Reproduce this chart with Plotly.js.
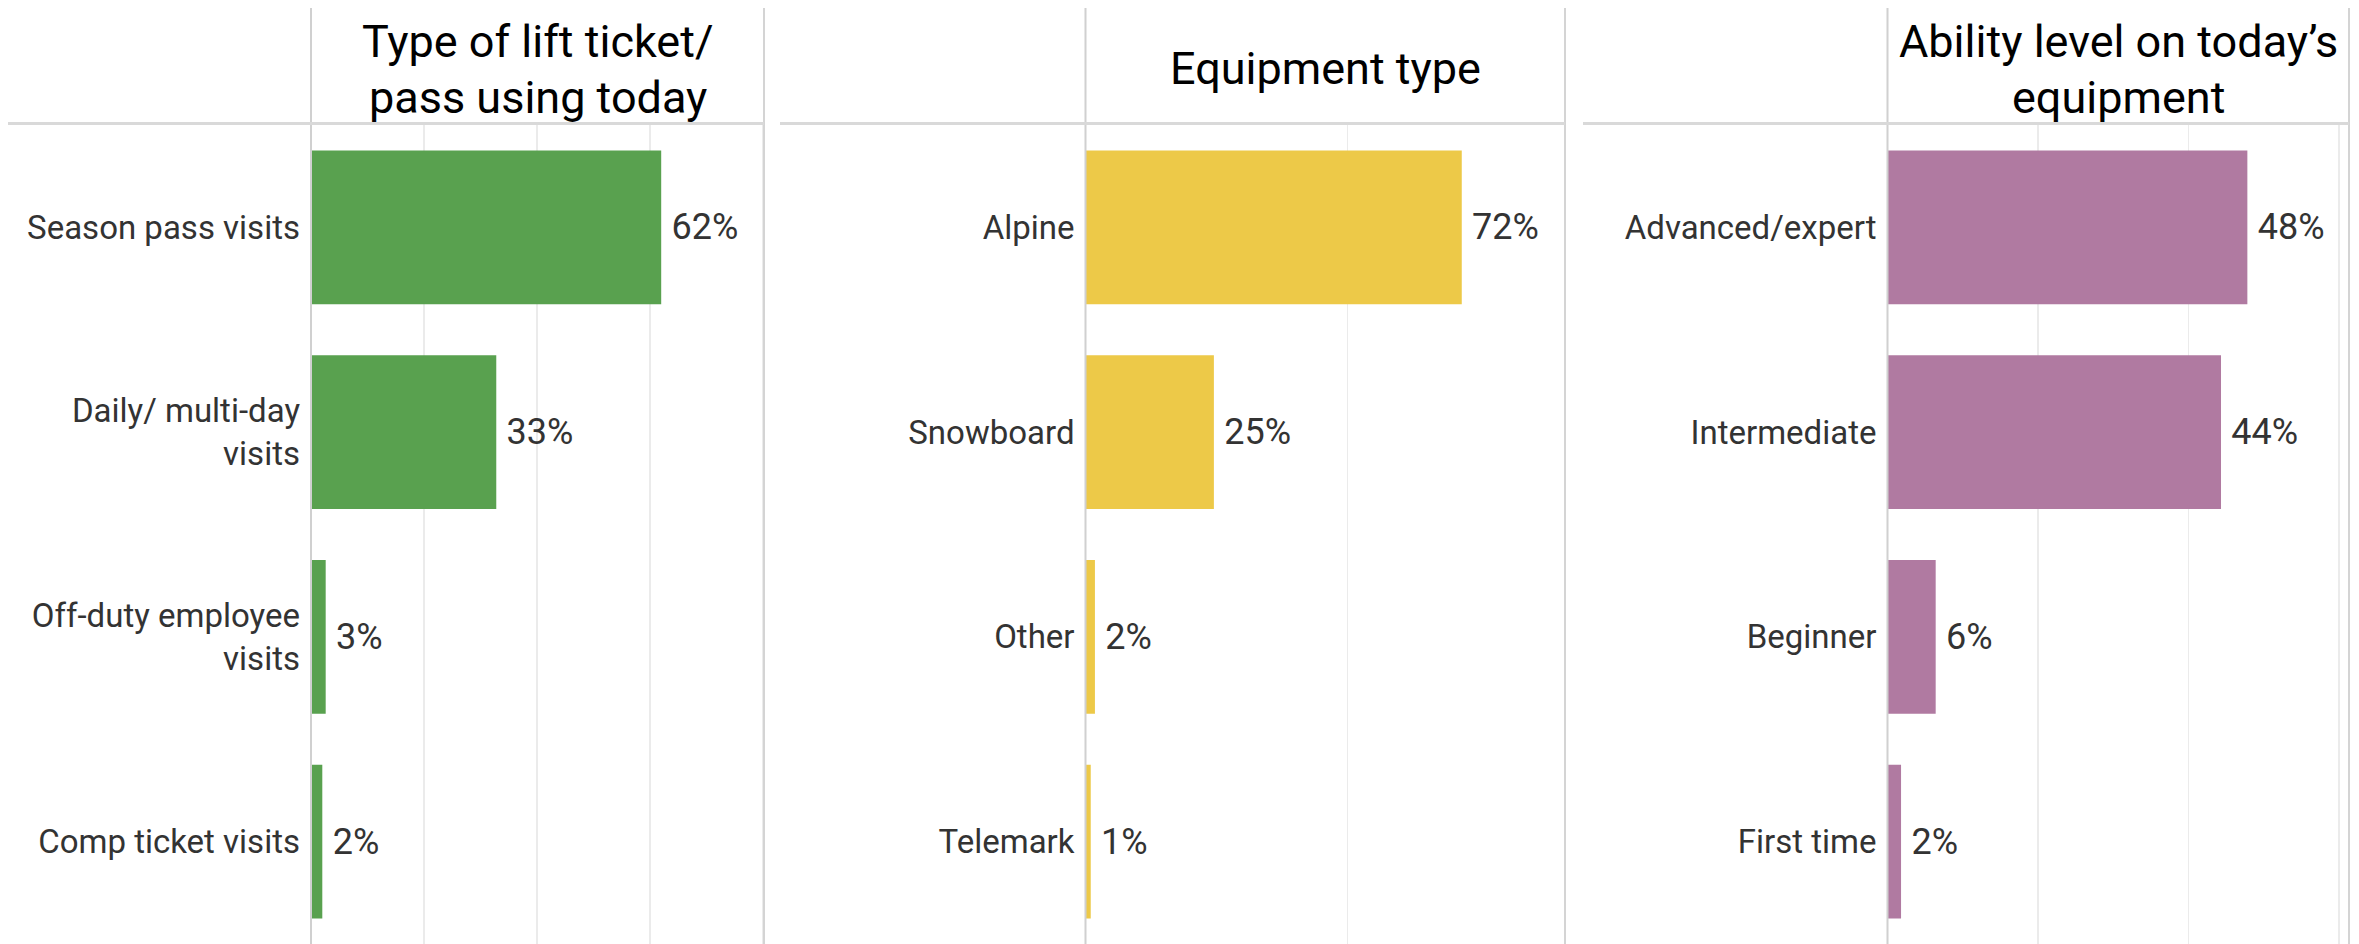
<!DOCTYPE html>
<html>
<head>
<meta charset="utf-8">
<script src="https://cdn.plot.ly/plotly-3.0.1.min.js"></script>
<style>
  html, body { margin: 0; padding: 0; background: #ffffff; }
  #chart { width: 2359px; height: 944px; }
</style>
</head>
<body>
<div id="chart"></div>
<script>
// ---- Data ----
const ticketCategories = ["Season pass visits", "Daily/ multi-day<br>visits", "Off-duty employee<br>visits", "Comp ticket visits"];
const ticketValues = [0.62, 0.328, 0.026, 0.02];
const ticketLabels = ["62%", "33%", "3%", "2%"];

const equipCategories = ["Alpine", "Snowboard", "Other", "Telemark"];
const equipValues = [0.718, 0.245, 0.018, 0.01];
const equipLabels = ["72%", "25%", "2%", "1%"];

const abilityCategories = ["Advanced/expert", "Intermediate", "Beginner", "First time"];
const abilityValues = [0.478, 0.443, 0.064, 0.018];
const abilityLabels = ["48%", "44%", "6%", "2%"];

const panelTitles = [
  ["Type of lift ticket/", "pass using today"],
  ["Equipment type"],
  ["Ability level on today’s", "equipment"]
];
const panelColors = ["#59A14F", "#EDC948", "#B07AA1"];

// ---- Layout constants ----
const W = 2359, H = 944;
const FONT = "Roboto, 'Noto Sans', sans-serif";
const px = v => v / W;
const py = v => (H - v) / H;

const xDomains = [[px(311), px(764)], [px(1085.5), px(1565)], [px(1887.5), px(2349)]];
const xRanges = [[0, 0.802], [0, 0.915], [0, 0.613]];
const xDticks = [0.2, 0.5, 0.2];
const yDomain = [0, py(125)];
const headerSpans = [[8, 764], [780, 1565], [1583, 2349]];

const cats = [ticketCategories, equipCategories, abilityCategories];
const vals = [ticketValues, equipValues, abilityValues];
const labs = [ticketLabels, equipLabels, abilityLabels];

const traces = [];
const layout = {
  width: W, height: H,
  margin: {l: 0, r: 0, t: 0, b: 0},
  paper_bgcolor: "#ffffff",
  plot_bgcolor: "#ffffff",
  showlegend: false,
  hovermode: false,
  font: {family: FONT, color: "#333333"},
  bargap: 0.25,
  shapes: [],
  annotations: []
};

for (let i = 0; i < 3; i++) {
  const sfx = i === 0 ? "" : String(i + 1);
  traces.push({
    type: "bar",
    orientation: "h",
    y: cats[i],
    x: vals[i],
    xaxis: "x" + sfx,
    yaxis: "y" + sfx,
    marker: {color: panelColors[i], line: {width: 0}},
    text: labs[i].map(t => "\u2009" + t),
    textposition: "outside",
    textfont: {family: FONT, size: 36, color: "#333333"},
    cliponaxis: false,
    constraintext: "none"
  });
  layout["xaxis" + sfx] = {
    domain: xDomains[i],
    range: xRanges[i],
    anchor: "y" + sfx,
    showticklabels: false,
    ticks: "",
    dtick: xDticks[i],
    tick0: 0,
    showgrid: true,
    gridcolor: "#ebebeb",
    gridwidth: 1.5,
    zeroline: false,
    showline: false,
    fixedrange: true
  };
  layout["yaxis" + sfx] = {
    domain: yDomain,
    anchor: "x" + sfx,
    type: "category",
    autorange: "reversed",
    ticks: "",
    ticklabelstandoff: 10,
    tickfont: {family: FONT, size: 33, color: "#333333"},
    showgrid: false,
    zeroline: false,
    showline: false,
    fixedrange: true
  };
  // zero axis line (extends into header)
  layout.shapes.push({
    type: "line", xref: "x" + sfx + " domain", yref: "paper",
    x0: 0, x1: 0, y0: 0, y1: py(8),
    line: {color: "#d0d0d0", width: 2}
  });
  // right border of panel
  layout.shapes.push({
    type: "line", xref: "x" + sfx + " domain", yref: "paper",
    x0: 1, x1: 1, y0: 0, y1: py(8),
    line: {color: "#d4d4d4", width: 2}
  });
  // header separator
  layout.shapes.push({
    type: "line", xref: "paper", yref: "paper",
    x0: px(headerSpans[i][0]), x1: px(headerSpans[i][1]), y0: py(123.5), y1: py(123.5),
    line: {color: "#d9d9d9", width: 3}
  });
  // titles
  const lines = panelTitles[i];
  const ys = lines.length === 2 ? [41, 97] : [68];
  lines.forEach((t, k) => {
    layout.annotations.push({
      xref: "x" + sfx + " domain", yref: "paper",
      x: 0.5, y: py(ys[k]),
      xanchor: "center", yanchor: "middle",
      text: t, showarrow: false,
      font: {family: FONT, size: 45, color: "#000000"}
    });
  });
}

Plotly.newPlot("chart", traces, layout, {displayModeBar: false, staticPlot: true});
</script>
</body>
</html>
